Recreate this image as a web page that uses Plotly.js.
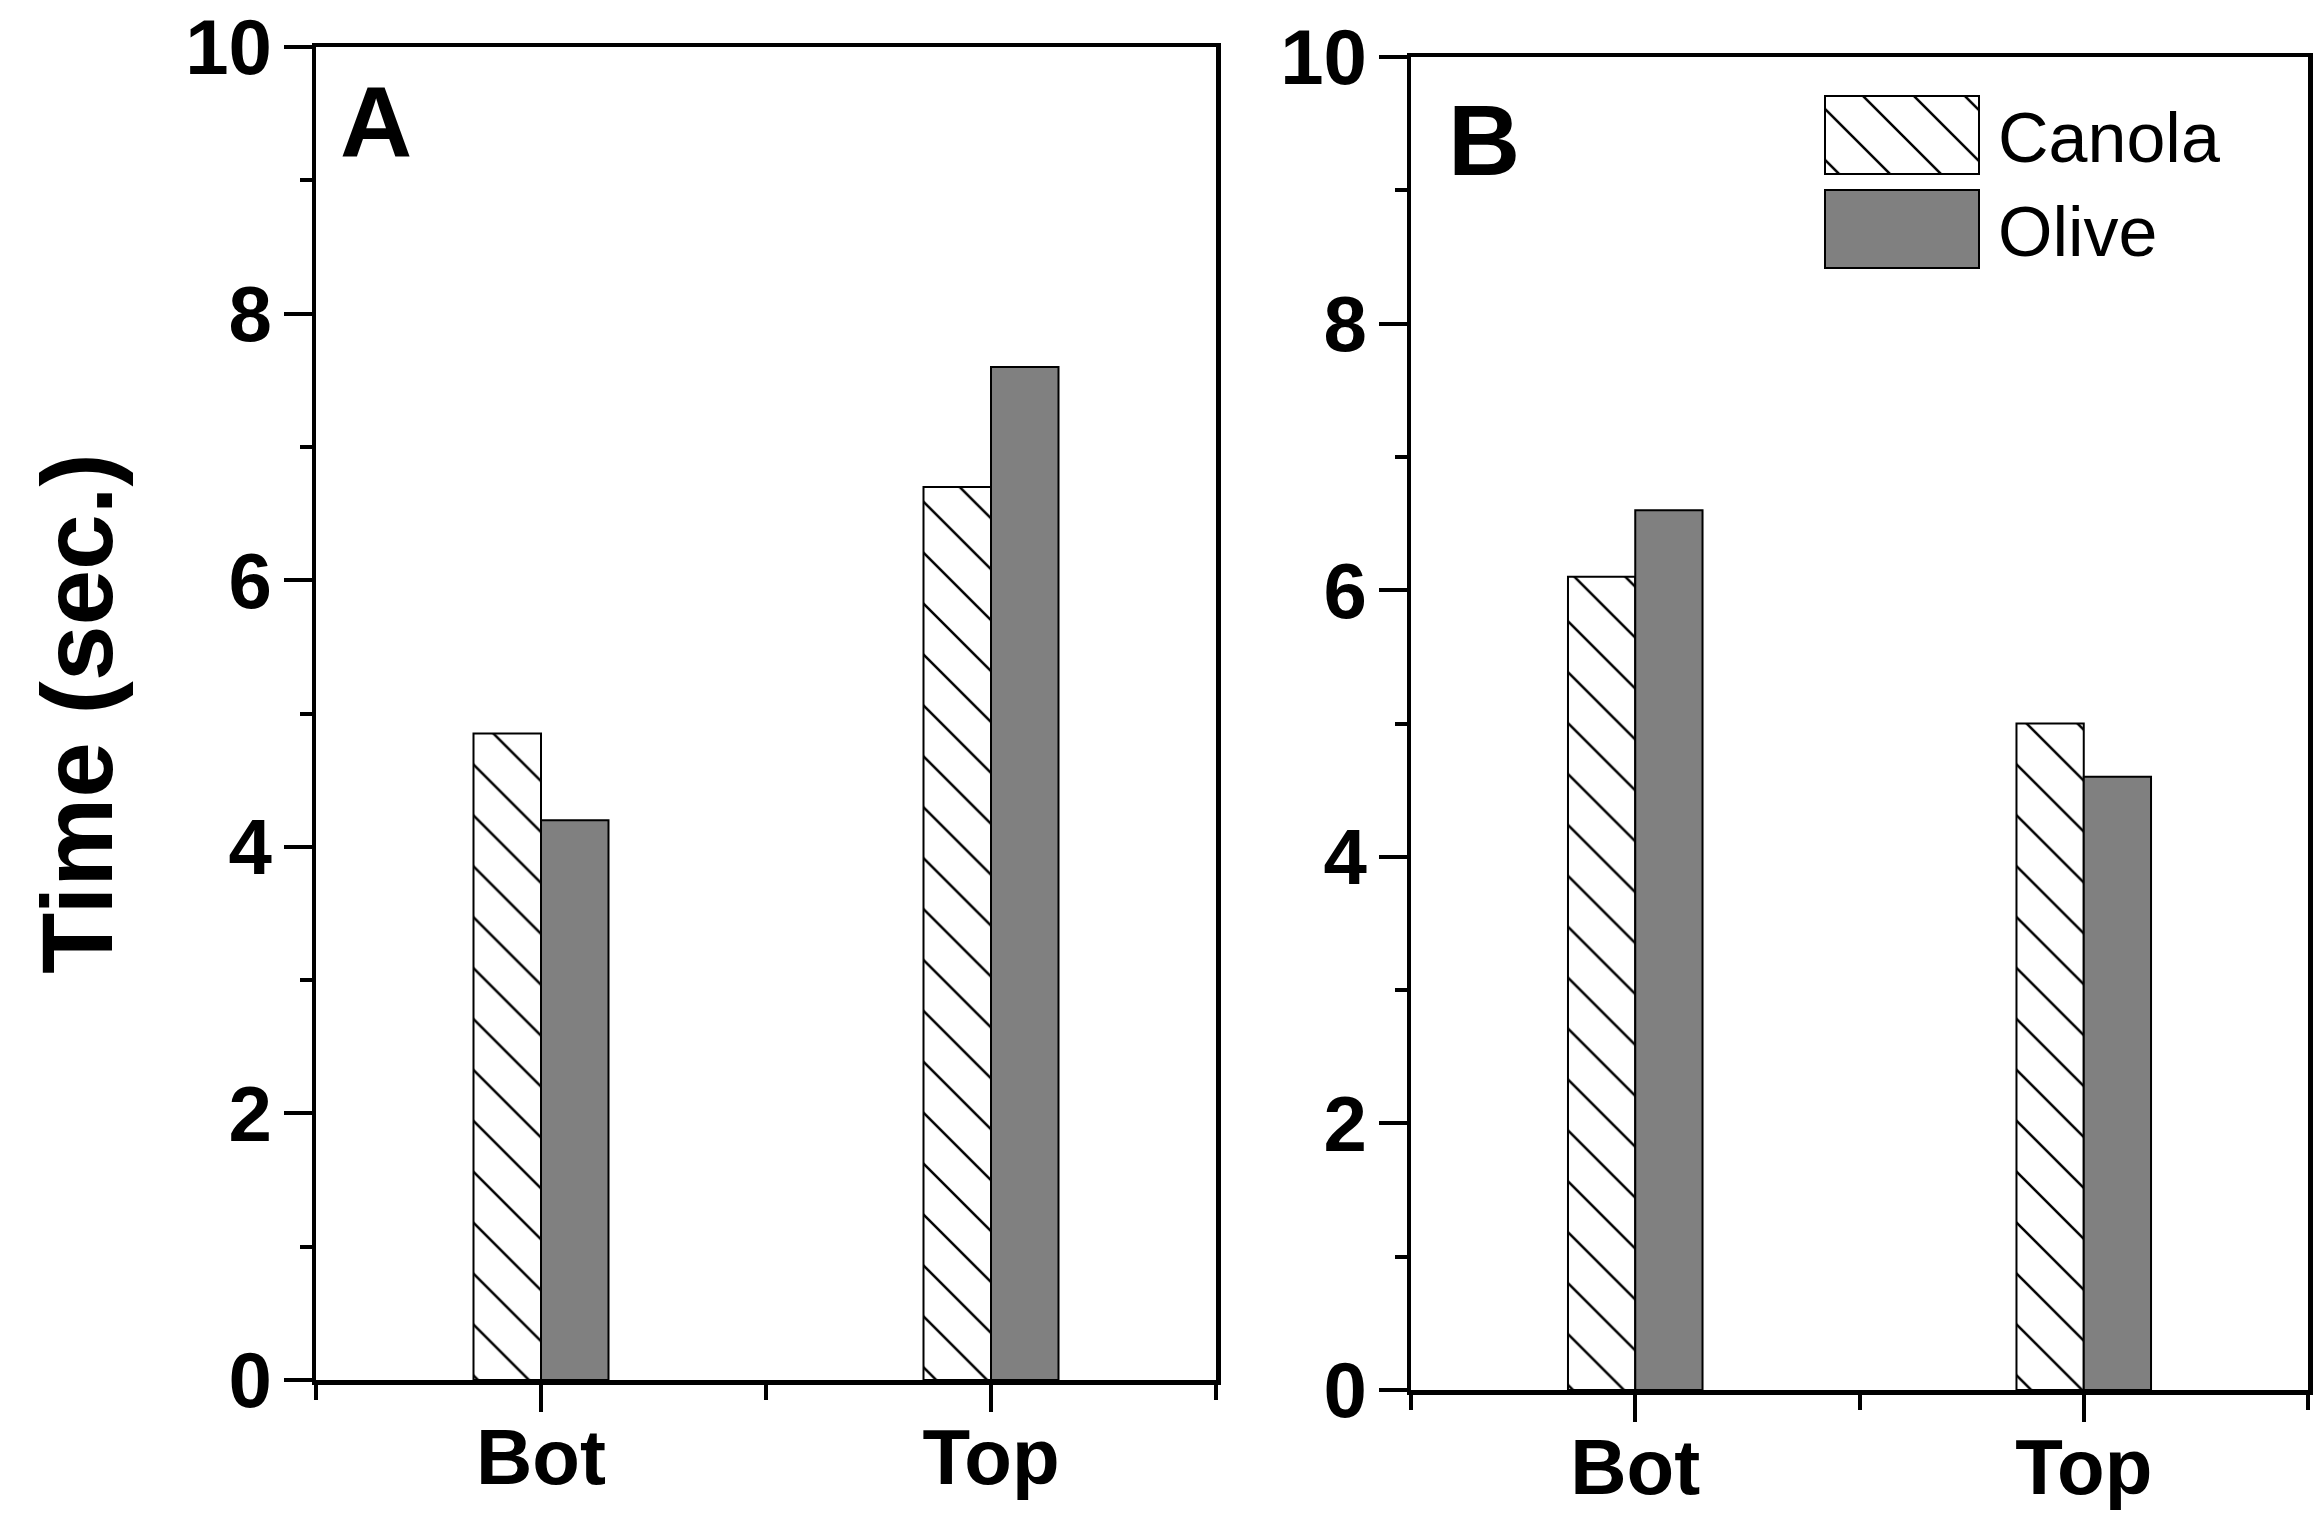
<!DOCTYPE html>
<html>
<head>
<meta charset="utf-8">
<script src="https://cdn.plot.ly/plotly-3.0.1.min.js"></script>
<style>
  html, body { margin: 0; padding: 0; background: #fff; }
  #chart { width: 2320px; height: 1524px; }
  /* wide legend swatches like the original figure */
  #chart .legend .legendpoints path {
    d: path('M77,39H-77V-39H77Z');
    transform: translate(84px, 0px);
    stroke-width: 2px !important;
  }
</style>
</head>
<body>
<div id="chart"></div>
<script>
// data
const categories = ['Bot', 'Top'];
const canolaA = [4.85, 6.7];
const oliveA = [4.2, 7.6];
const canolaB = [6.1, 5.0];
const oliveB = [6.6, 4.6];
const seriesNames = ['Canola', 'Olive'];
const panelLabels = ['A', 'B'];

const W = 2320, H = 1524;
const px = x => x / W;
const py = y => 1 - y / H;

const FONT = 'Liberation Sans, Arial, Helvetica, sans-serif';
const xpos = categories.map((c, i) => i + 1);

const canolaMarker = {
    color: 'white',
    pattern: { shape: '\\', fgcolor: 'black', bgcolor: 'white', size: 36, solidity: 0.07 },
    line: { color: 'black', width: 2 },
};
const oliveMarker = { color: '#808080', line: { color: 'black', width: 2 } };

function bars(vals, name, marker, xa, ya, legend) {
    return {
        type: 'bar', x: xpos, y: vals, name: name, marker: marker,
        xaxis: xa, yaxis: ya, showlegend: legend, hoverinfo: 'skip',
    };
}

const traces = [
    bars(canolaA, seriesNames[0], canolaMarker, 'x', 'y', false),
    bars(oliveA, seriesNames[1], oliveMarker, 'x', 'y', false),
    bars(canolaB, seriesNames[0], canolaMarker, 'x2', 'y2', true),
    bars(oliveB, seriesNames[1], oliveMarker, 'x2', 'y2', true),
];

const tickFont = { family: FONT, size: 78, color: 'black', weight: 'bold' };

function xAxis(domain, anchor) {
    return {
        domain: domain, anchor: anchor, type: 'linear', range: [0.5, 2.5],
        tickmode: 'array', tickvals: xpos, ticktext: categories,
        ticks: 'outside', ticklen: 27, tickwidth: 4, tickcolor: 'black',
        minor: { tickmode: 'linear', tick0: 0.5, dtick: 1, ticks: 'outside', ticklen: 15, tickwidth: 4, tickcolor: 'black' },
        ticklabelstandoff: -21, tickfont: tickFont,
        showline: true, linewidth: 4.5, linecolor: 'black', mirror: true,
        showgrid: false, zeroline: false, fixedrange: true,
    };
}

function yAxis(domain, anchor, withTitle) {
    const ax = {
        domain: domain, anchor: anchor, range: [0, 10],
        tickmode: 'linear', tick0: 0, dtick: 2,
        ticks: 'outside', ticklen: 28, tickwidth: 4, tickcolor: 'black',
        minor: { tickmode: 'linear', tick0: 0, dtick: 1, ticks: 'outside', ticklen: 12, tickwidth: 4, tickcolor: 'black' },
        ticklabelstandoff: -4, tickfont: tickFont,
        showline: true, linewidth: 4.5, linecolor: 'black', mirror: true,
        showgrid: false, zeroline: false, fixedrange: true,
    };
    if (withTitle) {
        ax.title = { text: 'Time (sec.)', font: { family: FONT, size: 100, color: 'black', weight: 'bold' }, standoff: 40 };
    }
    return ax;
}

const layout = {
    width: W, height: H,
    margin: { l: 0, r: 0, t: 0, b: 0 },
    paper_bgcolor: 'white', plot_bgcolor: 'white',
    barmode: 'group', bargap: 0.7, bargroupgap: 0,
    xaxis: xAxis([px(316), px(1216)], 'y'),
    yaxis: yAxis([py(1380), py(47)], 'x', true),
    xaxis2: xAxis([px(1411), px(2308)], 'y2'),
    yaxis2: yAxis([py(1390), py(57)], 'x2', false),
    legend: {
        x: px(1818), y: py(83), xanchor: 'left', yanchor: 'top',
        bgcolor: 'rgba(0,0,0,0)', borderwidth: 0,
        font: { family: FONT, size: 70, color: 'black' },
        itemwidth: 170, traceorder: 'normal',
    },
    annotations: [
        { text: panelLabels[0], xref: 'paper', yref: 'paper', x: px(338), y: py(122), xanchor: 'left', yanchor: 'middle',
          showarrow: false, font: { family: FONT, size: 100, color: 'black', weight: 'bold' } },
        { text: panelLabels[1], xref: 'paper', yref: 'paper', x: px(1446), y: py(140), xanchor: 'left', yanchor: 'middle',
          showarrow: false, font: { family: FONT, size: 100, color: 'black', weight: 'bold' } },
    ],
    showlegend: true,
};

function widenSwatches(gd) {
    // the legend hatch uses a shrunk pattern; point it at the bars' (largest) one
    let big = null;
    gd.querySelectorAll('pattern').forEach(p => {
        const w = parseFloat(p.getAttribute('width')) || 0;
        if (!big || w > (parseFloat(big.getAttribute('width')) || 0)) big = p;
    });
    gd.querySelectorAll('.legend .legendpoints path').forEach(p => {
        p.setAttribute('d', 'M77,39H-77V-39H77Z');
        p.setAttribute('transform', 'translate(84,0)');
        const f = p.style.fill || p.getAttribute('fill') || '';
        if (big && f.indexOf('url') >= 0) p.style.setProperty('fill', 'url(#' + big.id + ')', 'important');
    });
}

Plotly.newPlot('chart', traces, layout, { staticPlot: true, displayModeBar: false }).then(gd => {
    widenSwatches(gd);
    setTimeout(() => widenSwatches(gd), 200);
    setTimeout(() => widenSwatches(gd), 800);
});
</script>
</body>
</html>
